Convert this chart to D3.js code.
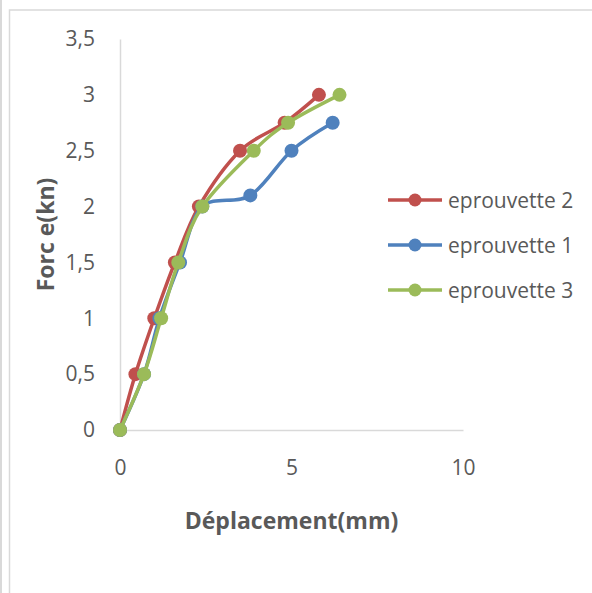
<!DOCTYPE html>
<html>
<head>
<meta charset="utf-8">
<script src="https://cdn.jsdelivr.net/npm/d3@7"></script>
<style>
  body { margin: 0; background: #fff; }
  svg { display: block; font-family: "Open Sans", sans-serif; }
</style>
</head>
<body>
<svg id="chart"></svg>
<script>
// values
const seriesNames = ["eprouvette 2", "eprouvette 1", "eprouvette 3"];
const seriesColors = ["#C0504D", "#4F81BD", "#9BBB59"];

const deplEprouvette2 = [0, 0.45, 1.0, 1.6, 2.3, 3.5, 4.8, 5.8];
const forceEprouvette2 = [0, 0.5, 1, 1.5, 2, 2.5, 2.75, 3];

const deplEprouvette1 = [0, 0.7, 1.15, 1.75, 2.4, 3.8, 5.0, 6.2];
const forceEprouvette1 = [0, 0.5, 1, 1.5, 2, 2.1, 2.5, 2.75];

const deplEprouvette3 = [0, 0.7, 1.2, 1.7, 2.4, 3.9, 4.9, 6.4];
const forceEprouvette3 = [0, 0.5, 1, 1.5, 2, 2.5, 2.75, 3];

const xTicks = [0, 5, 10];
const yTicks = [0, 0.5, 1, 1.5, 2, 2.5, 3, 3.5];

const width = 592, height = 593;

const svg = d3.select("#chart")
    .attr("width", width)
    .attr("height", height);

// chart frame
svg.append("line")
    .attr("x1", 1).attr("x2", 1).attr("y1", 0).attr("y2", height)
    .attr("stroke", "#D9D9D9").attr("stroke-width", 2);
svg.append("rect")
    .attr("x", 9.5).attr("y", 10)
    .attr("width", width).attr("height", height)
    .attr("fill", "#fff")
    .attr("stroke", "#D9D9D9").attr("stroke-width", 1.5);

const x = d3.scaleLinear().domain([0, 10]).range([120, 463]);
const y = d3.scaleLinear().domain([0, 3.5]).range([430, 39]);

const fmt = d => String(d).replace(".", ",");

// axes
const xAxis = svg.append("g")
    .attr("transform", `translate(0,${y(0)})`)
    .call(d3.axisBottom(x).tickValues(xTicks).tickSize(0).tickPadding(28).tickFormat(fmt));
xAxis.select(".domain").attr("stroke", "#D9D9D9").attr("stroke-width", 1.5);

const yAxis = svg.append("g")
    .attr("transform", `translate(${x(0)},0)`)
    .call(d3.axisLeft(y).tickValues(yTicks).tickSize(0).tickPadding(25).tickFormat(fmt));
yAxis.select(".domain").attr("stroke", "#D9D9D9").attr("stroke-width", 1.5);

svg.selectAll(".tick text")
    .attr("fill", "#595959")
    .style("font-size", "21px")
    .style("font-family", "Open Sans, sans-serif");
xAxis.selectAll(".tick text").attr("dy", "0.35em").attr("y", 38);

// axis titles
svg.append("text")
    .attr("x", (x(0) + x(10)) / 2)
    .attr("y", 520)
    .attr("text-anchor", "middle")
    .attr("dominant-baseline", "central")
    .attr("fill", "#595959")
    .style("font-size", "23px")
    .style("font-weight", "bold")
    .text("Déplacement(mm)");

svg.append("text")
    .attr("transform", `translate(45,${(y(0) + y(3.5)) / 2}) rotate(-90)`)
    .attr("text-anchor", "middle")
    .attr("dominant-baseline", "central")
    .attr("fill", "#595959")
    .style("font-size", "23px")
    .style("font-weight", "bold")
    .text("Forc e(kn)");

// series
const series = [
    { xs: deplEprouvette2, ys: forceEprouvette2 },
    { xs: deplEprouvette1, ys: forceEprouvette1 },
    { xs: deplEprouvette3, ys: forceEprouvette3 }
].map((s, i) => ({
    name: seriesNames[i],
    color: seriesColors[i],
    points: s.xs.map((v, j) => [v, s.ys[j]])
}));

const line = d3.line()
    .x(d => x(d[0]))
    .y(d => y(d[1]))
    .curve(d3.curveCardinal.tension(0));

series.forEach(s => {
    const g = svg.append("g");
    g.append("path")
        .attr("d", line(s.points))
        .attr("fill", "none")
        .attr("stroke", s.color)
        .attr("stroke-width", 3.5)
        .attr("stroke-linejoin", "round");
    g.selectAll("circle")
        .data(s.points)
        .join("circle")
        .attr("cx", d => x(d[0]))
        .attr("cy", d => y(d[1]))
        .attr("r", 7)
        .attr("fill", s.color);
});

// legend
const legend = svg.append("g");
series.forEach((s, i) => {
    const ly = 200 + i * 45;
    legend.append("line")
        .attr("x1", 388).attr("x2", 442)
        .attr("y1", ly).attr("y2", ly)
        .attr("stroke", s.color)
        .attr("stroke-width", 3.5);
    legend.append("circle")
        .attr("cx", 415).attr("cy", ly).attr("r", 6.5)
        .attr("fill", s.color);
    legend.append("text")
        .attr("x", 448).attr("y", ly)
        .attr("dominant-baseline", "central")
        .attr("fill", "#595959")
        .style("font-size", "21px")
        .text(s.name);
});
</script>
</body>
</html>
